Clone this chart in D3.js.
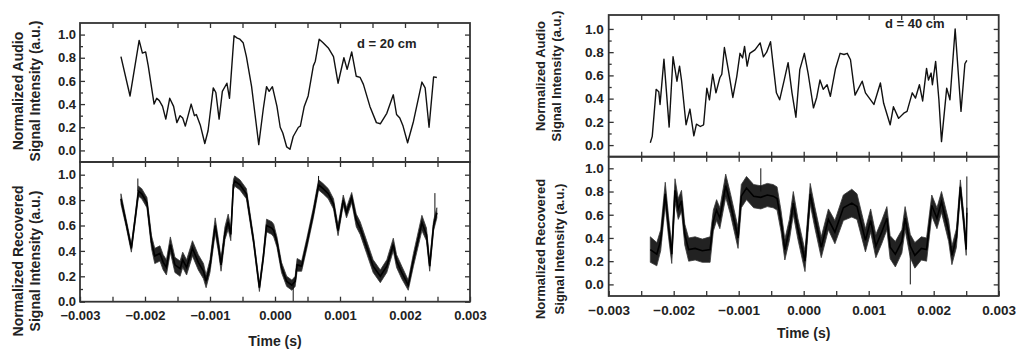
<!DOCTYPE html>
<html>
<head>
<meta charset="utf-8">
<script src="https://cdn.jsdelivr.net/npm/d3@7"></script>
<style>
  body { margin: 0; background: #fff; }
  svg { display: block; font-family: "Liberation Sans", Arial, sans-serif; font-weight: bold; }
</style>
</head>
<body>
<div id="chart"></div>
<script>
// tick values
var xMajor = [-0.003, -0.002, -0.001, 0, 0.001, 0.002, 0.003];
var xMinor = [-0.0025, -0.0015, -0.0005, 0.0005, 0.0015, 0.0025];
var yMajor = [0, 0.2, 0.4, 0.6, 0.8, 1.0];
var yMinor = [0.1, 0.3, 0.5, 0.7, 0.9];

// d = 20 cm, audio signal
var audio20T = [-0.00237, -0.00223, -0.00209, -0.00204, -0.00199, -0.00195, -0.00186, -0.00182, -0.00178, -0.00173,
  -0.00168, -0.00162, -0.00156, -0.00151, -0.00146, -0.00142, -0.00138, -0.00129, -0.00124, -0.00121,
  -0.00115, -0.00108, -0.00103, -0.00095, -0.00091, -0.00086, -0.00081, -0.00074, -0.00070, -0.00065,
  -0.00063, -0.00058, -0.00054, -0.00049, -0.00044, -0.00036, -0.00025, -0.00018, -0.00013, -0.00009,
  -0.00004, 0.00003, 0.00008, 0.00012, 0.00018, 0.00023, 0.00028, 0.00036, 0.00039, 0.00045,
  0.00051, 0.00059, 0.00062, 0.00068, 0.00074, 0.00082, 0.00090, 0.00097, 0.00106, 0.00111,
  0.00118, 0.00125, 0.00131, 0.00136, 0.00146, 0.00156, 0.00162, 0.00172, 0.00182, 0.00187,
  0.00192, 0.00197, 0.00204, 0.00213, 0.00226, 0.00231, 0.00237, 0.00244, 0.00249];
var audio20V = [0.81, 0.47, 0.95, 0.84, 0.85, 0.73, 0.40, 0.45, 0.43, 0.38,
  0.27, 0.45, 0.38, 0.24, 0.30, 0.28, 0.21, 0.40, 0.30, 0.31,
  0.22, 0.06, 0.17, 0.54, 0.50, 0.27, 0.51, 0.58, 0.45, 0.84,
  0.99, 0.97, 0.96, 0.93, 0.81, 0.55, 0.05, 0.36, 0.55, 0.51,
  0.55, 0.38, 0.20, 0.15, 0.03, 0.01, 0.12, 0.20, 0.21, 0.38,
  0.47, 0.73, 0.77, 0.96, 0.93, 0.885, 0.81, 0.58, 0.80, 0.70,
  0.85, 0.64, 0.63, 0.57, 0.38, 0.24, 0.23, 0.32, 0.48, 0.31,
  0.28, 0.21, 0.066, 0.25, 0.59, 0.54, 0.20, 0.635, 0.63];

// d = 20 cm, recovered signal (centre of the noisy band and its half width)
var recov20T = [-0.00237, -0.00229, -0.00221, -0.00215, -0.00210, -0.00205, -0.00197, -0.00190, -0.00185, -0.00177,
  -0.00172, -0.00167, -0.00161, -0.00154, -0.00146, -0.00142, -0.00136, -0.00127, -0.00118, -0.00110,
  -0.00106, -0.00100, -0.00092, -0.00087, -0.00083, -0.00077, -0.00072, -0.00068, -0.00064, -0.00062,
  -0.00054, -0.00044, -0.00033, -0.00024, -0.00018, -0.00013, -0.00005, -0.00002, 0.00003, 0.00010,
  0.00018, 0.00026, 0.00031, 0.00034, 0.00041, 0.00049, 0.00059, 0.00067, 0.00074, 0.00082,
  0.00090, 0.00097, 0.00105, 0.00110, 0.00118, 0.00125, 0.00131, 0.00141, 0.00151, 0.00162,
  0.00172, 0.00182, 0.00187, 0.00195, 0.00205, 0.00213, 0.00226, 0.00233, 0.00238, 0.00244, 0.00249];
var recov20V = [0.81, 0.62, 0.42, 0.66, 0.87, 0.85, 0.78, 0.47, 0.36, 0.38,
  0.31, 0.27, 0.45, 0.29, 0.26, 0.33, 0.27, 0.42, 0.31, 0.24,
  0.16, 0.28, 0.60, 0.44, 0.29, 0.54, 0.63, 0.53, 0.92, 0.95,
  0.92, 0.85, 0.48, 0.11, 0.35, 0.60, 0.58, 0.56, 0.47, 0.27,
  0.16, 0.13, 0.16, 0.29, 0.28, 0.46, 0.70, 0.92, 0.89, 0.85,
  0.77, 0.56, 0.80, 0.70, 0.82, 0.64, 0.58, 0.43, 0.28, 0.20,
  0.28, 0.45, 0.32, 0.23, 0.13, 0.33, 0.62, 0.53, 0.28, 0.60, 0.70];
var recov20W = [0.04, 0.03, 0.03, 0.03, 0.04, 0.04, 0.04, 0.05, 0.06, 0.06,
  0.06, 0.06, 0.06, 0.06, 0.06, 0.06, 0.06, 0.06, 0.06, 0.06,
  0.05, 0.05, 0.06, 0.05, 0.05, 0.05, 0.06, 0.05, 0.04, 0.04,
  0.04, 0.04, 0.03, 0.03, 0.03, 0.05, 0.05, 0.05, 0.04, 0.04,
  0.04, 0.04, 0.04, 0.05, 0.04, 0.04, 0.04, 0.04, 0.04, 0.04,
  0.04, 0.04, 0.04, 0.04, 0.04, 0.05, 0.05, 0.05, 0.05, 0.05,
  0.05, 0.05, 0.05, 0.05, 0.04, 0.05, 0.06, 0.05, 0.04, 0.04, 0.04];
var recov20SpikeT = [-0.00211, 0.00028, 0.00067, 0.00246];
var recov20SpikeFrom = [0.87, 0.14, 0.92, 0.65];
var recov20SpikeTo = [0.97, 0.0, 0.99, 0.855];

// d = 40 cm, audio signal
var audio40T = [-0.00236, -0.00233, -0.00227, -0.00223, -0.00221, -0.00215, -0.00207, -0.00201, -0.00195, -0.00191,
  -0.00188, -0.00181, -0.00175, -0.00169, -0.00165, -0.00159, -0.00154, -0.00149, -0.00145, -0.00140,
  -0.00135, -0.00129, -0.00126, -0.00122, -0.00116, -0.00109, -0.00103, -0.00098, -0.00094, -0.00091,
  -0.00087, -0.00083, -0.00075, -0.00071, -0.00067, -0.00062, -0.00057, -0.00051, -0.00047, -0.00042,
  -0.00037, -0.00030, -0.00024, -0.00018, -0.00012, -0.00006, 0.00001, 0.00007, 0.00015, 0.00020,
  0.00025, 0.00030, 0.00036, 0.00041, 0.00049, 0.00056, 0.00062, 0.00067, 0.00072, 0.00079,
  0.00090, 0.00095, 0.00108, 0.00118, 0.00123, 0.00133, 0.00138, 0.00146, 0.00154, 0.00159,
  0.00167, 0.00172, 0.00178, 0.00183, 0.00189, 0.00192, 0.00196, 0.00198, 0.00203, 0.00208,
  0.00212, 0.00220, 0.00225, 0.00233, 0.00242, 0.00248, 0.00251];
var audio40V = [0.02, 0.075, 0.48, 0.46, 0.35, 0.74, 0.155, 0.76, 0.55, 0.68,
  0.56, 0.175, 0.31, 0.08, 0.18, 0.16, 0.175, 0.49, 0.39, 0.61,
  0.45, 0.58, 0.61, 0.84, 0.65, 0.41, 0.59, 0.79, 0.75, 0.85,
  0.68, 0.79, 0.82, 0.85, 0.88, 0.76, 0.80, 0.89, 0.69, 0.45,
  0.39, 0.56, 0.71, 0.45, 0.24, 0.65, 0.79, 0.61, 0.32, 0.41,
  0.56, 0.48, 0.52, 0.42, 0.66, 0.79, 0.78, 0.79, 0.735, 0.43,
  0.55, 0.45, 0.35, 0.535, 0.36, 0.175, 0.33, 0.23, 0.275, 0.29,
  0.45, 0.405, 0.52, 0.38, 0.66, 0.56, 0.62, 0.52, 0.72, 0.39,
  0.03, 0.49, 0.39, 1.0, 0.29, 0.70, 0.73];

// d = 40 cm, recovered signal
var recov40T = [-0.00236, -0.00226, -0.00220, -0.00213, -0.00208, -0.00203, -0.00198, -0.00193, -0.00188, -0.00183,
  -0.00177, -0.00167, -0.00156, -0.00144, -0.00139, -0.00134, -0.00129, -0.00120, -0.00113, -0.00101,
  -0.00096, -0.00088, -0.00077, -0.00066, -0.00056, -0.00047, -0.00041, -0.00035, -0.00029, -0.00022,
  -0.00016, -0.00009, 0.00002, 0.00010, 0.00017, 0.00027, 0.00038, 0.00048, 0.00061, 0.00074,
  0.00082, 0.00095, 0.00103, 0.00111, 0.00120, 0.00128, 0.00133, 0.00141, 0.00151, 0.00156,
  0.00164, 0.00171, 0.00181, 0.00189, 0.00197, 0.00205, 0.00212, 0.00223, 0.00228, 0.00235,
  0.00241, 0.00246, 0.00250, 0.00251];
var recov40V = [0.30, 0.26, 0.38, 0.78, 0.50, 0.26, 0.81, 0.65, 0.72, 0.43,
  0.30, 0.31, 0.29, 0.30, 0.55, 0.64, 0.57, 0.85, 0.70, 0.40,
  0.76, 0.83, 0.76, 0.75, 0.77, 0.76, 0.74, 0.55, 0.30, 0.47,
  0.70, 0.48, 0.20, 0.78, 0.58, 0.32, 0.56, 0.45, 0.66, 0.70,
  0.67, 0.38, 0.55, 0.33, 0.45, 0.57, 0.32, 0.26, 0.37, 0.57,
  0.33, 0.25, 0.31, 0.30, 0.68, 0.57, 0.71, 0.46, 0.25, 0.40,
  0.84, 0.56, 0.30, 0.62];
var recov40W = [0.11, 0.10, 0.09, 0.10, 0.09, 0.08, 0.10, 0.09, 0.09, 0.09,
  0.10, 0.10, 0.10, 0.11, 0.09, 0.09, 0.09, 0.10, 0.09, 0.09,
  0.10, 0.10, 0.10, 0.10, 0.10, 0.10, 0.10, 0.09, 0.09, 0.09,
  0.10, 0.09, 0.09, 0.09, 0.09, 0.09, 0.09, 0.10, 0.11, 0.12,
  0.11, 0.10, 0.10, 0.10, 0.10, 0.10, 0.10, 0.11, 0.10, 0.10,
  0.10, 0.11, 0.10, 0.10, 0.09, 0.09, 0.09, 0.09, 0.08, 0.08,
  0.06, 0.06, 0.05, 0.04];
var recov40SpikeT = [-0.00066, 0.00164, 0.00251];
var recov40SpikeFrom = [0.80, 0.28, 0.62];
var recov40SpikeTo = [1.0, 0.0, 0.93];

var svg = d3.select("#chart").append("svg")
    .attr("width", 1024)
    .attr("height", 355);

function zip(t, v) {
  return t.map(function(d, i) { return { t: d, v: v[i] } });
}

function drawFrame(g, x, y, opts) {
  var x0 = x.range()[0], x1 = x.range()[1];
  var y0 = y.range()[1], y1 = y.range()[0];

  // inward major and minor ticks on all four sides
  g.append("g")
    .attr("transform", "translate(" + x0 + ",0)")
    .call(d3.axisLeft(y).tickValues(yMajor).tickSize(-5).tickPadding(opts.yPad).tickFormat(d3.format(".1f")));
  g.append("g").attr("transform", "translate(" + x0 + ",0)")
    .call(d3.axisLeft(y).tickValues(yMinor).tickSize(-3).tickFormat(""));
  g.append("g").attr("transform", "translate(" + x1 + ",0)")
    .call(d3.axisRight(y).tickValues(yMajor).tickSize(-5).tickFormat(""));
  g.append("g").attr("transform", "translate(" + x1 + ",0)")
    .call(d3.axisRight(y).tickValues(yMinor).tickSize(-3).tickFormat(""));
  g.append("g").attr("transform", "translate(0," + y0 + ")")
    .call(d3.axisTop(x).tickValues(xMajor.slice(1, -1).concat(xMinor)).tickSize(-5).tickFormat(""));

  if (opts.bottomLabels) {
    g.append("g")
      .attr("transform", "translate(0," + y1 + ")")
      .call(d3.axisBottom(x).tickValues(xMajor).tickSize(-5).tickPadding(opts.xPad).tickFormat(d3.format(".3f")));
    g.append("g").attr("transform", "translate(0," + y1 + ")")
      .call(d3.axisBottom(x).tickValues(xMinor).tickSize(-5).tickFormat(""));
  } else {
    g.append("g").attr("transform", "translate(0," + y1 + ")")
      .call(d3.axisBottom(x).tickValues(xMajor.slice(1, -1).concat(xMinor)).tickSize(-5).tickFormat(""));
  }

  g.selectAll(".domain").remove();
  g.selectAll(".tick line").attr("stroke", "#333").attr("stroke-width", 1.3);
  g.selectAll(".tick text").attr("fill", "#222").style("font-size", opts.tickFont + "px");

  g.append("rect")
    .attr("x", x0).attr("y", y0)
    .attr("width", x1 - x0).attr("height", y1 - y0)
    .attr("fill", "none").attr("stroke", "#333").attr("stroke-width", 1.8);
}

function yTitle(g, cx, cy, text, size) {
  g.append("text")
    .attr("transform", "translate(" + cx + "," + cy + ") rotate(-90)")
    .attr("text-anchor", "middle")
    .attr("dy", "0.35em")
    .style("font-size", size + "px")
    .attr("fill", "#222")
    .text(text);
}

function drawPanel(p) {
  var g = svg.append("g");
  var x = d3.scaleLinear().domain([-0.003, 0.003]).range([p.left, p.right]);
  var yTop = d3.scaleLinear().domain(p.topDomain).range([p.mid, p.top]);
  var yBot = d3.scaleLinear().domain(p.botDomain).range([p.bottom, p.mid]);

  // upper: audio signal
  var line = d3.line()
      .x(function(d) { return x(d.t) })
      .y(function(d) { return yTop(d.v) });
  g.append("path")
    .datum(zip(p.audioT, p.audioV))
    .attr("fill", "none")
    .attr("stroke", "#111")
    .attr("stroke-width", 1.4)
    .attr("stroke-linejoin", "round")
    .attr("d", line);

  // lower: recovered signal as a noisy band
  var band = p.recT.map(function(d, i) { return { t: d, v: p.recV[i], w: p.recW[i] } });
  var area = d3.area()
      .x(function(d) { return x(d.t) })
      .y0(function(d) { return yBot(d.v - d.w) })
      .y1(function(d) { return yBot(d.v + d.w) });
  g.append("path")
    .datum(band)
    .attr("fill", "#222")
    .attr("stroke", "#3a3a3a")
    .attr("stroke-width", 0.8)
    .attr("d", area);
  g.append("path")
    .datum(band)
    .attr("fill", "none")
    .attr("stroke", "#000")
    .attr("stroke-width", 1.6)
    .attr("d", d3.line().x(function(d) { return x(d.t) }).y(function(d) { return yBot(d.v) }));

  g.selectAll(".spike")
    .data(p.spikeT)
    .enter().append("line")
      .attr("class", "spike")
      .attr("x1", function(d) { return x(d) })
      .attr("x2", function(d) { return x(d) })
      .attr("y1", function(d, i) { return yBot(p.spikeFrom[i]) })
      .attr("y2", function(d, i) { return yBot(p.spikeTo[i]) })
      .attr("stroke", "#111")
      .attr("stroke-width", 1);

  drawFrame(g, x, yTop, { bottomLabels: false, yPad: p.yPad, tickFont: p.tickFont });
  drawFrame(g, x, yBot, { bottomLabels: true, yPad: p.yPad, xPad: p.xPad, tickFont: p.tickFont });

  g.append("text")
    .attr("x", p.labelX).attr("y", p.labelY)
    .style("font-size", "13px")
    .attr("fill", "#222")
    .text(p.label);

  g.append("text")
    .attr("x", (p.left + p.right) / 2).attr("y", p.timeY)
    .attr("text-anchor", "middle")
    .style("font-size", "14px")
    .attr("fill", "#222")
    .text("Time (s)");

  yTitle(g, p.titleX1, p.topTitleY, "Normalized Audio", p.titleFont);
  yTitle(g, p.titleX2, p.topTitleY, "Signal Intensity (a.u.)", p.titleFont);
  yTitle(g, p.titleX1, p.botTitleY, "Normalized Recovered", p.titleFont);
  yTitle(g, p.titleX2b, p.botTitleY, "Signal Intensity (a.u.)", p.titleFont);
}

drawPanel({
  left: 80, right: 470, top: 23, mid: 162, bottom: 301.7,
  topDomain: [-0.1, 1.1], botDomain: [0, 1.1],
  audioT: audio20T, audioV: audio20V,
  recT: recov20T, recV: recov20V, recW: recov20W,
  spikeT: recov20SpikeT, spikeFrom: recov20SpikeFrom, spikeTo: recov20SpikeTo,
  label: "d = 20 cm", labelX: 357, labelY: 48,
  timeY: 346, yPad: 4, xPad: 9.5, tickFont: 13, titleFont: 14,
  titleX1: 18, titleX2: 35, titleX2b: 35, topTitleY: 91, botTitleY: 261
});

drawPanel({
  left: 608.7, right: 998.7, top: 15, mid: 156.7, bottom: 296,
  topDomain: [-0.1, 1.12], botDomain: [-0.1, 1.1],
  audioT: audio40T, audioV: audio40V,
  recT: recov40T, recV: recov40V, recW: recov40W,
  spikeT: recov40SpikeT, spikeFrom: recov40SpikeFrom, spikeTo: recov40SpikeTo,
  label: "d = 40 cm", labelX: 885, labelY: 28,
  timeY: 338, yPad: 5, xPad: 9, tickFont: 13.5, titleFont: 13,
  titleX1: 540, titleX2: 556, titleX2b: 559, topTitleY: 76, botTitleY: 249
});
</script>
</body>
</html>
